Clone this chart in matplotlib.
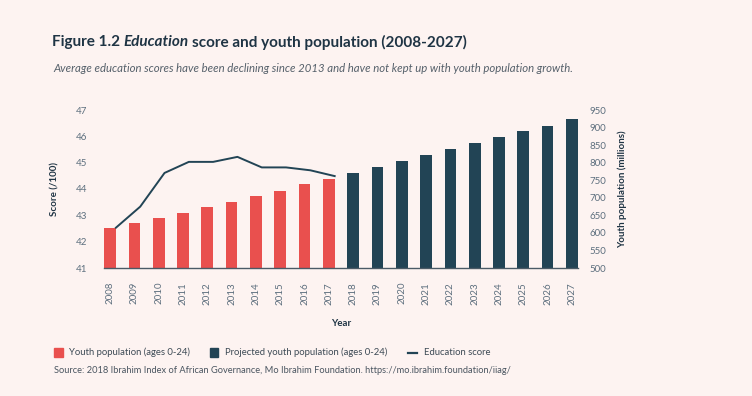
import matplotlib.pyplot as plt
import numpy as np
from matplotlib.patches import Rectangle
from matplotlib.lines import Line2D

plt.rcParams['font.family'] = ['Lato', 'DejaVu Sans']

# data
years = [str(y) for y in range(2008, 2028)]
youth_pop = [615, 628, 642, 657, 674, 688, 705, 719, 739, 754]          # 2008-2017
projected_pop = [771, 788, 805, 822, 839, 856, 873, 890, 904, 924]      # 2018-2027
education_score = [42.53, 43.33, 44.61, 45.03, 45.03, 45.22, 44.82, 44.82, 44.71, 44.49]

bg = '#fdf3f1'
red = '#e9504e'
navy = '#224455'
tick_col = '#5d6f7e'
dark = '#1f3444'

W, H = 752, 396
fig = plt.figure(figsize=(W / 100, H / 100), dpi=100, facecolor=bg)
ax = fig.add_axes([104 / W, 1 - 268 / H, 474 / W, 158 / H])
ax.set_facecolor(bg)
ax2 = ax.twinx()

x = np.arange(len(years))
n_hist = len(youth_pop)
width = 0.48

# bars go on the right (population) axis
ax2.bar(x[:n_hist], youth_pop, width, color=red)
ax2.bar(x[n_hist:], projected_pop, width, color=navy)
ax2.set_ylim(500, 950)
ax2.set_yticks(range(500, 951, 50))

# score line on the left axis (points sit at the bar right edges)
ax.set_zorder(ax2.get_zorder() + 1)
ax.patch.set_visible(False)
ax.plot(x[:n_hist] + width / 2, education_score, color=navy, linewidth=1.4)
ax.set_ylim(41, 47)
ax.set_yticks(range(41, 48))
ax.set_xlim(-0.25, len(years) - 0.75)
ax.set_xticks(x)
ax.set_xticklabels(years, rotation=90)

for a in (ax, ax2):
    for s in a.spines.values():
        s.set_visible(False)
    a.tick_params(length=0, colors=tick_col, labelsize=7)
ax.spines['bottom'].set_visible(True)
ax.spines['bottom'].set_color('#4a5a66')
ax.spines['bottom'].set_linewidth(1.0)
ax.tick_params(axis='y', pad=12)
ax.tick_params(axis='x', pad=10)
ax2.tick_params(axis='y', pad=8)

ax.set_xlabel('Year', fontsize=7, fontweight='bold', color=dark, labelpad=10)
ax.set_ylabel('Score (/100)', fontsize=7, fontweight='bold', color=dark, labelpad=12)
ax2.set_ylabel('Youth population (millions)', fontsize=7, fontweight='bold', color=dark, labelpad=8)


def fig_text(px, py, s, target_w=None, **kw):
    """place text at pixel coords; optionally scale font so it spans target_w pixels"""
    t = fig.text(px / W, 1 - py / H, s, va='center', **kw)
    if target_w:
        fig.canvas.draw()
        w = t.get_window_extent().width
        t.set_fontsize(t.get_fontsize() * target_w / w)
    fig.canvas.draw()
    return t


# title, with "Education" in italics
t = fig_text(52, 42, 'Figure 1.2 ', fontsize=11, fontweight='bold', color=dark)
t = fig_text(t.get_window_extent().x1, 42, 'Education', fontsize=11, fontweight='bold',
             style='italic', color=dark)
fig_text(t.get_window_extent().x1 + 3, 42, 'score and youth population (2008-2027)', fontsize=11,
         fontweight='bold', color=dark)
fig_text(53, 68,
         'Average education scores have been declining since 2013 and have not kept up with youth population growth.',
         target_w=524, fontsize=8, style='italic', color='#55606a')

# legend drawn by hand to match the spacing
fig.add_artist(Rectangle((54 / W, 1 - 357 / H), 8.5 / W, 9 / H, color=red, transform=fig.transFigure))
fig_text(69, 352.5, 'Youth population (ages 0-24)', target_w=120, fontsize=7.5, color='#3d4a55')
fig.add_artist(Rectangle((210 / W, 1 - 357 / H), 8.5 / W, 9 / H, color=navy, transform=fig.transFigure))
fig_text(225, 352.5, 'Projected youth population (ages 0-24)', target_w=162, fontsize=7.5, color='#3d4a55')
fig.add_artist(Line2D([408 / W, 416.5 / W], [1 - 352.5 / H] * 2, color=navy, linewidth=1.6,
                      transform=fig.transFigure))
fig_text(424, 352.5, 'Education score', target_w=66, fontsize=7.5, color='#3d4a55')

fig_text(54, 370.5,
         'Source: 2018 Ibrahim Index of African Governance, Mo Ibrahim Foundation. https://mo.ibrahim.foundation/iiag/',
         target_w=457, fontsize=6.8, color='#4a5560')

fig.savefig('out.png', dpi=100, facecolor=bg)
